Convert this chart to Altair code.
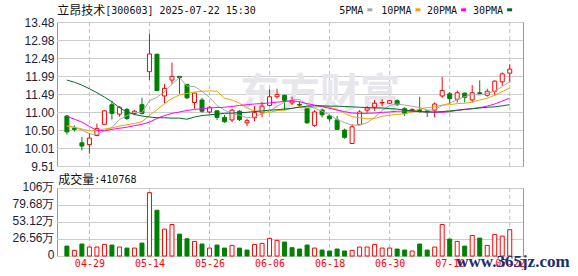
import altair as alt
import pandas as pd

# ---------------- data ----------------
dates = ["04-24", "04-25", "04-28", "04-29", "04-30", "05-06", "05-07", "05-08", "05-09", "05-12",
         "05-13", "05-14", "05-15", "05-16", "05-19", "05-20", "05-21", "05-22", "05-23", "05-26",
         "05-27", "05-28", "05-29", "05-30", "06-03", "06-04", "06-05", "06-06", "06-09", "06-10",
         "06-11", "06-12", "06-13", "06-16", "06-17", "06-18", "06-19", "06-20", "06-23", "06-24",
         "06-25", "06-26", "06-27", "06-30", "07-01", "07-02", "07-03", "07-04", "07-07", "07-08",
         "07-09", "07-10", "07-11", "07-14", "07-15", "07-16", "07-17", "07-18", "07-21", "07-22"]

opens = [10.89, 10.55, 10.15, 10.10, 10.35, 10.66, 11.20, 10.94, 11.07, 10.96,
         11.20, 12.11, 12.59, 11.44, 11.88, 11.98, 11.76, 11.26, 11.33, 11.00,
         11.03, 10.85, 10.78, 11.02, 10.70, 10.84, 10.98, 11.18, 11.42, 11.46,
         11.25, 11.21, 11.09, 10.63, 11.05, 10.89, 10.78, 10.50, 10.13, 10.65,
         11.05, 11.13, 11.25, 11.24, 11.31, 11.09, 11.04, 11.06, 11.03, 11.05,
         11.44, 11.50, 11.35, 11.52, 11.33, 11.53, 11.46, 11.57, 11.83, 12.07]
highs = [10.91, 10.63, 10.31, 10.42, 10.68, 11.04, 11.31, 11.16, 11.11, 11.05,
         11.39, 13.16, 12.61, 11.77, 12.36, 11.99, 11.77, 11.52, 11.39, 11.16,
         11.05, 10.92, 11.09, 11.05, 10.81, 11.16, 11.27, 11.63, 11.64, 11.47,
         11.42, 11.29, 11.12, 11.05, 11.09, 10.92, 10.89, 10.54, 10.67, 11.05,
         11.16, 11.33, 11.35, 11.32, 11.35, 11.13, 11.10, 11.42, 11.04, 11.26,
         11.96, 11.55, 11.59, 11.53, 11.74, 11.87, 11.64, 11.87, 12.09, 12.31]
lows = [10.38, 10.46, 9.94, 9.85, 10.33, 10.65, 10.79, 10.87, 10.78, 10.91,
        10.93, 11.88, 11.57, 11.24, 11.77, 11.50, 11.35, 11.09, 10.98, 10.96,
        10.78, 10.70, 10.72, 10.75, 10.61, 10.74, 10.85, 11.16, 11.37, 11.05,
        11.19, 11.15, 10.68, 10.59, 10.85, 10.74, 10.51, 10.26, 10.12, 10.64,
        10.98, 11.03, 11.16, 11.23, 11.16, 10.89, 11.02, 10.98, 10.86, 10.85,
        11.39, 11.22, 11.26, 11.26, 11.27, 11.48, 11.42, 11.46, 11.72, 11.81]
closes = [10.45, 10.52, 10.06, 10.28, 10.54, 11.03, 10.96, 11.13, 10.82, 11.02,
          10.96, 12.60, 11.59, 11.65, 11.98, 11.95, 11.39, 11.52, 11.02, 11.13,
          10.85, 10.73, 11.05, 10.79, 10.76, 10.98, 11.16, 11.42, 11.48, 11.32,
          11.30, 11.19, 10.70, 11.00, 10.92, 10.81, 10.52, 10.30, 10.59, 11.00,
          11.11, 11.24, 11.26, 11.31, 11.20, 10.96, 11.07, 11.04, 11.00, 11.22,
          11.59, 11.37, 11.53, 11.40, 11.53, 11.51, 11.57, 11.85, 12.05, 12.18]
# volume in shares (hands)
volumes = [155000, 88000, 187000, 140000, 140000, 181000, 171000, 140000, 124000, 124000,
           202000, 990000, 715000, 420000, 492000, 342000, 269000, 228000, 187000, 124000,
           171000, 124000, 166000, 124000, 93000, 181000, 197000, 275000, 244000, 218000,
           130000, 109000, 171000, 124000, 93000, 78000, 109000, 78000, 88000, 140000,
           140000, 181000, 124000, 124000, 109000, 93000, 78000, 187000, 93000, 140000,
           492000, 264000, 228000, 155000, 321000, 280000, 166000, 337000, 311000, 410768]

ma5 = [10.62, 10.58, 10.50, 10.40, 10.37, 10.49, 10.57, 10.79, 10.90, 10.99,
       10.98, 11.31, 11.40, 11.56, 11.76, 11.95, 11.71, 11.70, 11.57, 11.40,
       11.18, 11.05, 10.96, 10.91, 10.84, 10.86, 10.95, 11.02, 11.16, 11.27,
       11.34, 11.34, 11.20, 11.10, 11.02, 10.92, 10.79, 10.71, 10.63, 10.64,
       10.70, 10.85, 11.04, 11.18, 11.22, 11.19, 11.16, 11.12, 11.05, 11.06,
       11.18, 11.24, 11.34, 11.42, 11.48, 11.47, 11.51, 11.57, 11.70, 11.83]
ma10 = [10.60, 10.58, 10.53, 10.48, 10.49, 10.53, 10.56, 10.61, 10.65, 10.68,
        10.73, 10.90, 11.06, 11.23, 11.37, 11.47, 11.51, 11.55, 11.57, 11.58,
        11.57, 11.38, 11.33, 11.24, 11.12, 11.02, 11.00, 10.99, 11.04, 11.05,
        11.10, 11.15, 11.11, 11.13, 11.15, 11.13, 11.07, 10.96, 10.87, 10.84,
        10.81, 10.82, 10.88, 10.91, 10.93, 10.95, 11.00, 11.08, 11.12, 11.14,
        11.19, 11.20, 11.23, 11.24, 11.27, 11.33, 11.38, 11.46, 11.56, 11.66]
ma20 = [10.88, 10.80, 10.72, 10.60, 10.49, 10.48, 10.52, 10.55, 10.58, 10.62,
        10.66, 10.72, 10.82, 10.90, 10.96, 11.00, 11.04, 11.07, 11.09, 11.11,
        11.12, 11.13, 11.15, 11.18, 11.20, 11.22, 11.23, 11.25, 11.27, 11.29,
        11.31, 11.28, 11.23, 11.19, 11.15, 11.10, 11.05, 11.01, 10.97, 10.96,
        10.96, 10.97, 10.99, 11.00, 11.02, 11.02, 11.02, 11.01, 11.00, 10.99,
        10.99, 11.01, 11.04, 11.07, 11.09, 11.12, 11.16, 11.22, 11.30, 11.38]
ma30 = [11.88, 11.82, 11.74, 11.64, 11.53, 11.41, 11.28, 11.12, 11.00, 10.93,
        10.89, 10.86, 10.84, 10.84, 10.83, 10.83, 10.80, 10.86, 10.90, 10.92,
        10.94, 10.96, 10.97, 10.98, 10.99, 11.01, 11.03, 11.05, 11.06, 11.08,
        11.10, 11.13, 11.16, 11.17, 11.17, 11.16, 11.16, 11.15, 11.14, 11.13,
        11.12, 11.11, 11.11, 11.09, 11.08, 11.05, 11.03, 11.01, 11.00, 11.00,
        11.01, 11.03, 11.05, 11.07, 11.09, 11.11, 11.13, 11.14, 11.17, 11.20]

ma_names = ["5PMA", "10PMA", "20PMA", "30PMA"]
ma_colors = ["#a8a8a8", "#f5a300", "#ff00ff", "#006b30"]

price_min, price_max = 9.51, 13.48
price_labels = ["9.51", "10.01", "10.50", "11.00", "11.49", "11.99", "12.49", "12.98", "13.48"]
vol_max = 1062400
vol_labels = ["0", "26.56万", "53.12万", "79.68万", "106万"]
date_ticks = ["04-29", "05-14", "05-26", "06-06", "06-18", "06-30", "07-10", "07-22"]

title_name = "立昂技术"
title_rest = "[300603] 2025-07-22 15:30"
vol_title = "成交量"
vol_value = ":410768"

# ---------------- tables ----------------
n = len(dates)
df = pd.DataFrame({"i": list(range(n)), "date": dates, "open": opens, "high": highs,
                   "low": lows, "close": closes, "vol": volumes})
df["up"] = df["close"] >= df["open"]
df["vup"] = df["close"] > df["close"].shift(1)

ma_df = pd.DataFrame({"i": list(range(n)), "5PMA": ma5, "10PMA": ma10,
                      "20PMA": ma20, "30PMA": ma30}).melt("i", var_name="ma", value_name="v")

date_idx = [dates.index(d) for d in date_ticks]
date_expr = "[" + ",".join("'%s'" % d for d in dates) + "][datum.value]"

p_step = (price_max - price_min) / (len(price_labels) - 1)
price_ticks = [price_min + k * p_step for k in range(len(price_labels))]
price_expr = "[" + ",".join("'%s'" % s for s in price_labels) + "][round((datum.value - %f) / %f)]" % (price_min, p_step)
v_step = vol_max / (len(vol_labels) - 1)
vol_ticks = [k * v_step for k in range(len(vol_labels))]
vol_expr = "[" + ",".join("'%s'" % s for s in vol_labels) + "][round(datum.value / %f)]" % v_step

pgrid_df = pd.DataFrame({"y": price_ticks})
vgrid_df = pd.DataFrame({"y": vol_ticks})
dgrid_df = pd.DataFrame({"i": date_idx})

RED = "#ff0000"
GREEN = "#008000"
GRID = "#cccccc"
VGRID = "#c0c0c0"
LABEL = "#1c1c3a"
MONO = "DejaVu Sans Mono"
CJK = "Noto Sans CJK SC"

W = 466
PH = 144
VH = 68
xscale = alt.Scale(domain=[-0.652, 60.10], nice=False, zero=False)
one = pd.DataFrame({"k": [0]})

# ---------------- price panel ----------------
pscale = alt.Scale(domain=[price_min, price_max], nice=False, zero=False)
x_price = alt.X("i:Q", scale=xscale, title=None, axis=None)
y_axis_price = alt.Axis(values=price_ticks, labelExpr=price_expr, grid=False,
                        ticks=False, domain=False, labelPadding=3, labelFontSize=12,
                        labelOverlap=False, labelFlush=False, minExtent=50,
                        labelFont="Liberation Sans", labelColor=LABEL, title=None)

# invisible frame that fixes the space above the price panel
top_space = alt.Chart(one).mark_rect(fill="transparent", stroke=None).encode(
    x=alt.value(0), x2=alt.value(10), y=alt.value(-21), y2=alt.value(0))

pgrid = alt.Chart(pgrid_df).mark_rule(color=GRID, strokeWidth=1, yOffset=0.5).encode(
    y=alt.Y("y:Q", scale=pscale, axis=y_axis_price))
pdash = alt.Chart(dgrid_df).mark_rule(color=VGRID, strokeWidth=1, strokeDash=[4, 3]).encode(
    x=x_price)

watermark = alt.Chart(one).mark_text(text="东方财富", font=CJK, fontSize=40, fontWeight="bold",
                                     color="#e6e6ec", align="left", baseline="middle").encode(
    x=alt.value(183), y=alt.value(73))

base = alt.Chart(df).encode(x=x_price)
wicks = base.mark_rule(strokeWidth=1).encode(
    y=alt.Y("low:Q", scale=pscale, axis=y_axis_price),
    y2="high:Q",
    color=alt.condition("datum.up", alt.value(RED), alt.value(GREEN)))
bodies = base.mark_bar(size=4, strokeWidth=1).encode(
    y=alt.Y("open:Q", scale=pscale, axis=y_axis_price),
    y2="close:Q",
    fill=alt.condition("datum.up", alt.value("#ffffff"), alt.value(GREEN)),
    stroke=alt.condition("datum.up", alt.value(RED), alt.value(GREEN)))
lines = alt.Chart(ma_df).mark_line(strokeWidth=1, interpolate="linear").encode(
    x=x_price,
    y=alt.Y("v:Q", scale=pscale, axis=y_axis_price),
    color=alt.Color("ma:N", scale=alt.Scale(domain=ma_names, range=ma_colors), legend=None),
    order="i:Q")

TY = -11
t1 = alt.Chart(one).mark_text(text=title_name, font=CJK, fontSize=12, color="#111111",
                              align="left", baseline="middle").encode(x=alt.value(0.3), y=alt.value(TY))
t2 = alt.Chart(one).mark_text(text=title_rest, font=MONO, fontSize=10, color="#111111",
                              align="left", baseline="middle").encode(x=alt.value(48.3), y=alt.value(TY))

legend_layers = []
leg_text_x = [282.3, 324.3, 370.0, 416.0]
for name, col, lx in zip(ma_names, ma_colors, leg_text_x):
    legend_layers.append(
        alt.Chart(one).mark_text(text=name, font=MONO, fontSize=10, color="#111111",
                                 align="left", baseline="middle").encode(x=alt.value(lx), y=alt.value(TY)))
    sx = lx + len(name) * 6.02 + 4
    legend_layers.append(
        alt.Chart(one).mark_rect(color=col).encode(x=alt.value(sx), x2=alt.value(sx + 5),
                                                   y=alt.value(-13.7), y2=alt.value(-10.7)))

price = alt.layer(top_space, pgrid, pdash, watermark, wicks, bodies, lines, t1, t2,
                  *legend_layers).properties(width=W, height=PH)

# ---------------- volume panel ----------------
vscale = alt.Scale(domain=[0, vol_max], nice=False)
x_vol = alt.X("i:Q", scale=xscale, title=None,
              axis=alt.Axis(values=date_idx, labelExpr=date_expr, ticks=False, domain=False,
                            grid=False, labelOverlap=False, labelFlush=False,
                            labelColor=RED, labelFont=MONO, labelFontSize=10, labelPadding=2))
y_axis_vol = alt.Axis(values=vol_ticks, labelExpr=vol_expr, grid=False,
                      ticks=False, domain=False, minExtent=50,
                      labelPadding=3, labelFontSize=12, labelFont="Liberation Sans", labelColor=LABEL,
                      labelOffset=-1.5, labelOverlap=False, labelFlush=False, title=None)

vgrid = alt.Chart(vgrid_df).mark_rule(color=GRID, strokeWidth=1, yOffset=0.5).encode(
    y=alt.Y("y:Q", scale=vscale, axis=y_axis_vol))
vdash = alt.Chart(dgrid_df).mark_rule(color=VGRID, strokeWidth=1, strokeDash=[4, 3]).encode(
    x=x_vol)
vbars = alt.Chart(df).mark_bar(size=4, strokeWidth=1).encode(
    x=x_vol,
    y=alt.Y("vol:Q", scale=vscale, axis=y_axis_vol),
    fill=alt.condition("datum.vup", alt.value("#ffffff"), alt.value(GREEN)),
    stroke=alt.condition("datum.vup", alt.value(RED), alt.value(GREEN)))
v1 = alt.Chart(one).mark_text(text=vol_title, font=CJK, fontSize=12, color="#111111",
                              align="left", baseline="middle").encode(x=alt.value(1.3), y=alt.value(-8.5))
v2 = alt.Chart(one).mark_text(text=vol_value, font=MONO, fontSize=10, color="#111111",
                              align="left", baseline="middle").encode(x=alt.value(37.3), y=alt.value(-8.5))
site = alt.Chart(one).mark_text(text="www.365jz.com", font="Liberation Serif", fontSize=17,
                                fontWeight="bold", color="#1d2f6f", align="left",
                                baseline="middle").encode(x=alt.value(399.3), y=alt.value(73.5))

volume = alt.layer(vgrid, vdash, vbars, v1, v2, site).properties(width=W, height=VH)

chart = alt.vconcat(price, volume, spacing=22, bounds="flush").properties(
    padding={"left": 6, "top": 0, "right": 0, "bottom": 0},
    background="#ffffff"
).configure_view(stroke="#999999", strokeWidth=1).configure_axis(labelOverlap=False)

chart.save("out.html", embed_options={"renderer": "svg", "actions": False})
